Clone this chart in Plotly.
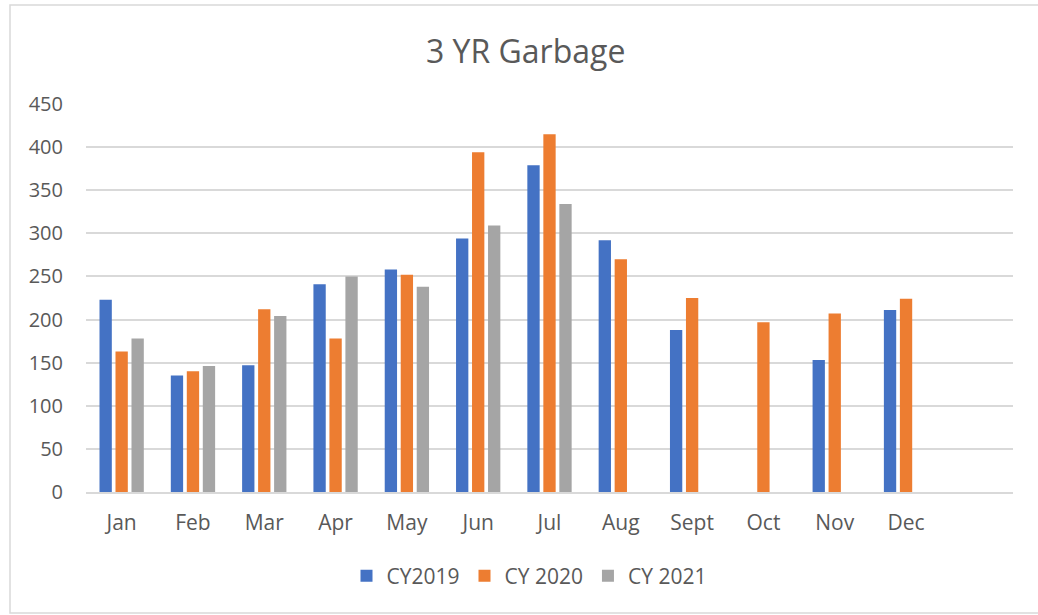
import plotly.graph_objects as go

months = ["Jan", "Feb", "Mar", "Apr", "May", "Jun", "Jul", "Aug", "Sept", "Oct", "Nov", "Dec"]
cy2019 = [223, 135, 147, 241, 258, 294, 379, 292, 188, None, 153, 211]
cy2020 = [163, 140, 212, 178, 252, 394, 415, 270, 225, 197, 207, 224]
cy2021 = [178, 146, 204, 250, 238, 309, 334, None, None, None, None, None]
series_names = ["CY2019", "CY 2020", "CY 2021"]
colors = ["#4472C4", "#ED7D31", "#A5A5A5"]
y_ticks = [0, 50, 100, 150, 200, 250, 300, 350, 400, 450]

FONT = "Open Sans"
TXT = "#595959"
GRID = "#D9D9D9"

fig = go.Figure()
for name, vals, col in zip(series_names, [cy2019, cy2020, cy2021], colors):
    fig.add_trace(go.Bar(x=months, y=vals, name=name, marker=dict(color=col, line=dict(width=0))))

W, H = 1038, 615
L, R, T, B = 86, 25, 104, 123
pw, ph = W - L - R, H - T - B

def px_x(p):
    return (p - L) / pw

def px_y(p):
    return (H - B - p) / ph

fig.update_layout(
    width=W, height=H,
    margin=dict(l=L, r=R, t=T, b=B),
    paper_bgcolor="white", plot_bgcolor="white",
    font=dict(family=FONT, color=TXT, size=20),
    barmode="group", bargap=0.327, bargroupgap=0.23,
    showlegend=True,
    legend=dict(orientation="h", x=px_x(529), xanchor="center", y=px_y(576), yanchor="middle",
                font=dict(size=21, color=TXT), itemwidth=30, traceorder="normal"),
    xaxis=dict(type="category", categoryorder="array", categoryarray=months,
               range=[-0.5, 12.5], showgrid=False, showline=True, linecolor=GRID, linewidth=1.5,
               ticks="", tickfont=dict(size=21, color=TXT), ticklabelstandoff=11, fixedrange=True),
    yaxis=dict(range=[0, 450], tickvals=y_ticks, showgrid=True, gridcolor=GRID, gridwidth=1.5,
               zeroline=False, showline=False, ticks="", tickfont=dict(size=20, color=TXT),
               ticklabelstandoff=22, fixedrange=True),
    annotations=[dict(text="3 YR Garbage", xref="paper", yref="paper", x=px_x(525), y=px_y(50),
                      xanchor="center", yanchor="middle", showarrow=False,
                      font=dict(size=32, color=TXT, family=FONT))],
    shapes=[dict(type="rect", xref="paper", yref="paper", x0=px_x(10), x1=px_x(1045),
                 y0=px_y(613), y1=px_y(5), line=dict(color=GRID, width=1.5), layer="below")],
)

fig.write_html("out.html", config={"displayModeBar": False},
               post_script="document.body.style.margin='0';document.body.style.padding='0';document.body.style.overflow='hidden';")
